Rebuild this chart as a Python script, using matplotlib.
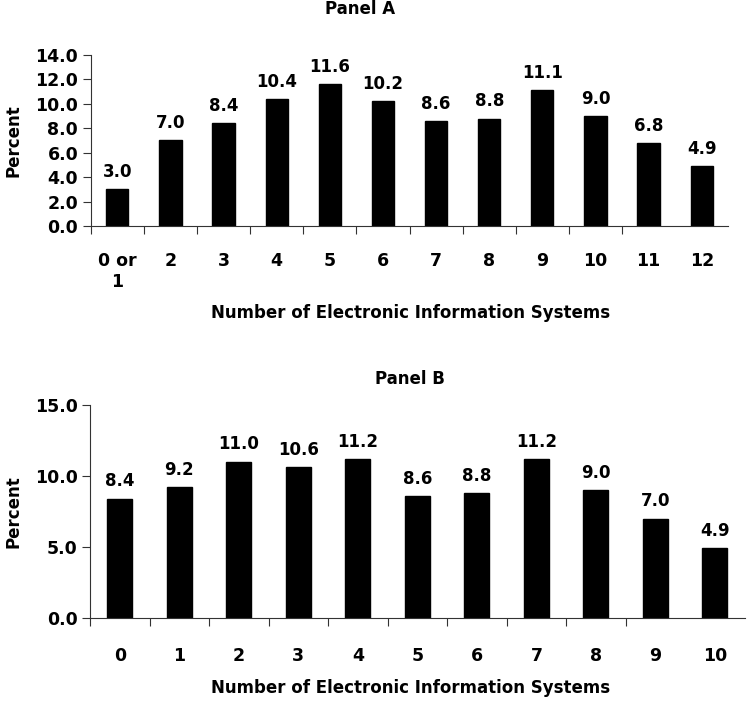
import matplotlib
matplotlib.use("Agg")
import matplotlib.pyplot as plt
import numpy as np

plt.rcParams['font.family'] = ['DejaVu Sans']
plt.rcParams['font.weight'] = 'bold'

cats_a = ["0 or\n1", "2", "3", "4", "5", "6", "7", "8", "9", "10", "11", "12"]
vals_a = [3.0, 7.0, 8.4, 10.4, 11.6, 10.2, 8.6, 8.8, 11.1, 9.0, 6.8, 4.9]
yticks_a = [0, 2, 4, 6, 8, 10, 12, 14]

cats_b = ["0", "1", "2", "3", "4", "5", "6", "7", "8", "9", "10"]
vals_b = [8.4, 9.2, 11.0, 10.6, 11.2, 8.6, 8.8, 11.2, 9.0, 7.0, 4.9]
yticks_b = [0, 5, 10, 15]

fig = plt.figure(figsize=(7.5, 7.03), dpi=100)

FS = 12.5

def panel(rect, cats, vals, yticks, ylim, title, title_x, title_y, xlabel_x, xlabel_y, label_pad):
    ax = fig.add_axes(rect)
    x = np.arange(len(cats))
    ax.bar(x, vals, width=0.42, color='black', edgecolor='black')
    ax.set_xlim(-0.5, len(cats) - 0.5)
    ax.set_ylim(*ylim)
    ax.set_yticks(yticks)
    ax.set_yticklabels([f"{v:.1f}" for v in yticks], fontsize=FS, fontweight='bold')
    # boundary ticks
    ax.set_xticks(np.arange(len(cats) - 1) - 0.5)
    ax.set_xticklabels([])
    ax.set_xticks(x, minor=True)
    ax.set_xticklabels(cats, minor=True, fontsize=FS, fontweight='bold', va='top')
    ax.tick_params(axis='x', which='minor', length=0, pad=label_pad)
    ax.tick_params(axis='x', which='major', length=6, width=0.8, color='#333333', direction='out')
    ax.tick_params(axis='y', length=6, width=0.8, color='#333333', pad=3)
    for s in ['top', 'right']:
        ax.spines[s].set_visible(False)
    for s in ['left', 'bottom']:
        ax.spines[s].set_linewidth(0.8)
        ax.spines[s].set_color('#333333')
    ax.set_ylabel("Percent", fontsize=12, fontweight='bold', labelpad=9)
    for xi, v in zip(x, vals):
        ax.annotate(f"{v:.1f}", (xi, v), xytext=(0, 6), textcoords='offset points',
                    ha='center', va='bottom', fontsize=12, fontweight='bold')
    fig.text(title_x, title_y, title, ha='center', va='center', fontsize=12, fontweight='bold')
    fig.text(xlabel_x, xlabel_y, "Number of Electronic Information Systems",
             ha='center', va='center', fontsize=12, fontweight='bold')
    return ax

panel([0.121, 0.6785, 0.850, 0.2433], cats_a, vals_a, yticks_a, (0, 14),
      "Panel A", 360/750, 1 - 9/703, 411/750, 1 - 313/703, 19)
panel([0.120, 0.1209, 0.873, 0.3030], cats_b, vals_b, yticks_b, (0, 15),
      "Panel B", 410/750, 1 - 379/703, 411/750, 1 - 688/703, 21)

fig.savefig("out.png", dpi=100)
